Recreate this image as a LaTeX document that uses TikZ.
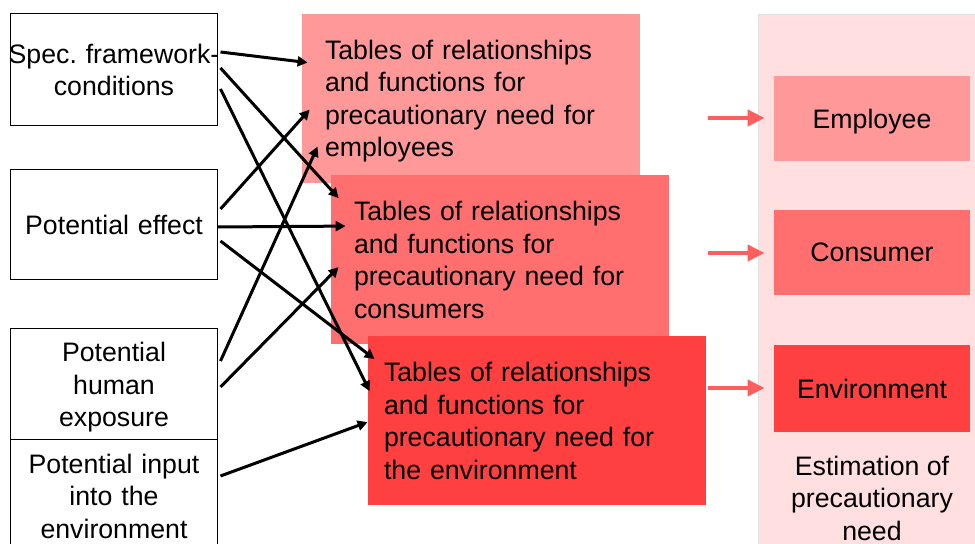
\documentclass[tikz,border=0pt]{standalone}
\usepackage{fontspec}
\setmainfont{Liberation Sans}
\usepackage{xcolor}
\usetikzlibrary{positioning,calc,arrows.meta}
\definecolor{tabA}{HTML}{FF9999}
\definecolor{tabB}{HTML}{FF6F6F}
\definecolor{tabC}{HTML}{FF4040}
\definecolor{paneFill}{HTML}{FFDFE0}
\definecolor{arrowPink}{HTML}{FF5E5E}
\newcommand{\nodepth}[1]{\raisebox{0pt}[\height][0pt]{#1}}
\tikzset{
  inbox/.style={draw=black, line width=0.5pt, fill=white, text width=103.5pt, align=center, inner sep=0pt},
  tabbox/.style={inner xsep=11.5pt, inner ysep=0pt, text width=146pt, minimum height=84.5pt, align=left},
  outbox/.style={minimum width=98pt, minimum height=42.5pt, inner sep=0pt},
  flow/.style={-{Triangle[length=5pt,width=5pt]}, line width=1.5pt},
  pflow/.style={-{Triangle[length=8.5pt,width=8pt]}, line width=2pt, draw=arrowPink, shorten >=4.5pt}
}

\begin{document}
\begin{tikzpicture}[x=0.5pt, y=0.5pt, font=\fontsize{13.35pt}{16.25pt}\selectfont]
				\useasboundingbox (0,0) rectangle (975,-544);
				% inputs
				\node[inbox, minimum height=56pt] (spec) at (114,-70) {\makebox[103.5pt]{Spec.\ framework-}\\conditions};
				\node[inbox, minimum height=55pt] (effect) at (114,-225) {Potential effect};
				\node[inbox, minimum height=55.5pt] (expo) at (114,-384.5) {Potential\\human\\\nodepth{exposure}};
				\node[inbox, minimum height=56pt] (input) at (114,-496) {Potential input\\into the\\environment};
				% tables
				\node[tabbox, fill=tabA] (temp) at (471,-98.5) {Tables of relationships\\and functions for\\precautionary need for\\\nodepth{employees}};
				\node[tabbox, fill=tabB] (tcon) at (500,-260) {Tables of relationships\\and functions for\\precautionary need for\\consumers};
				\node[tabbox, fill=tabC, inner xsep=8pt, text width=153pt] (tenv) at (537,-421) {Tables of relationships\\and functions for\\precautionary need for\\the environment};
				% estimation pane
				\draw[draw=black!12, fill=paneFill] (758,-14) rectangle (990,-560);
				\node[outbox, fill=tabA] (oemp) at (872,-118.5) {\nodepth{Employee}};
				\node[outbox, fill=tabB] (ocon) at (872,-252.5) {Consumer};
				\node[outbox, fill=tabC, minimum height=43.5pt] (oenv) at (872,-388.5) {Environment};
				\node[align=center, inner sep=0pt] (est) at (872,-498) {Estimation of\\precautionary\\need};
				\coordinate (pa) at (708,-118);
				\coordinate (pb) at (708,-253);
				\coordinate (pc) at (708,-388);
				\draw[pflow] (pa) -- (pa -| oemp.west);
				\draw[pflow] (pb) -- (pb -| ocon.west);
				\draw[pflow] (pc) -- (pc -| oenv.west);
				% black arrows
				\draw[flow] ($(spec.east)+(2.5,18)$) -- ($(temp.north west)+(6,-49)$);
				\draw[flow] ($(spec.east)+(2.5,2)$) -- ($(tcon.north west)+(8,-23)$);
				\draw[flow] ($(spec.east)+(2.5,-19)$) -- ($(tenv.north west)+(2,-55)$);
				\draw[flow] ($(effect.east)+(2.5,16)$) -- ($(temp.north west)+(8,-96)$);
				\draw[flow] ($(effect.east)+(0,-2)$) -- ($(tcon.north west)+(15,-51)$);
				\draw[flow] ($(effect.east)+(2.5,-16)$) -- ($(tenv.north west)+(7,-23)$);
				\draw[flow] ($(expo.east)+(2.5,23.5)$) -- ($(temp.north west)+(16,-133)$);
				\draw[flow] ($(expo.east)+(2.5,-2.5)$) -- ($(tcon.north west)+(8,-92)$);
				\draw[flow] ($(input.east)+(2.5,20)$) -- ($(tenv.north west)+(0,-86)$);
			\end{tikzpicture}
\end{document}
